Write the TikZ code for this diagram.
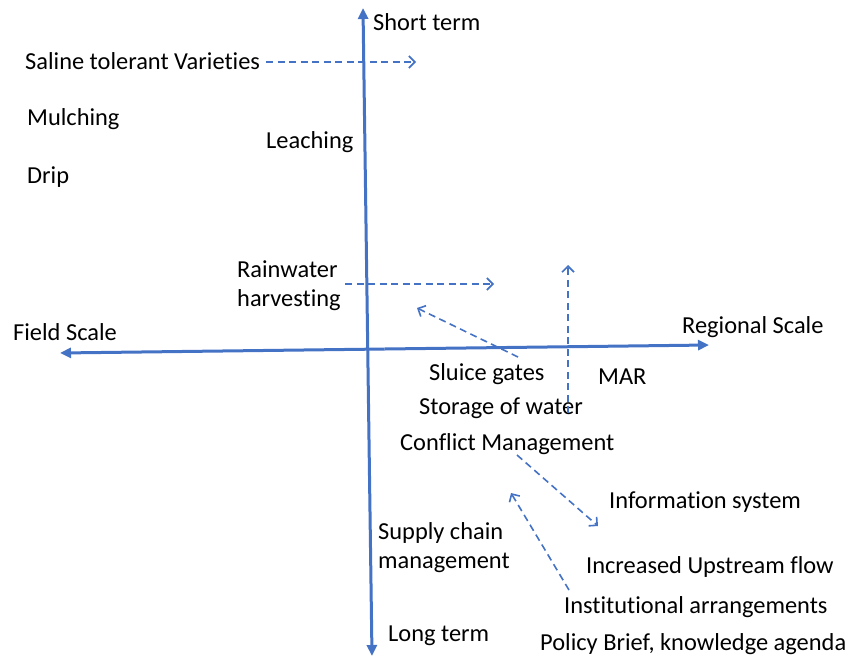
\documentclass[tikz,border=0pt]{standalone}
\usepackage{fontspec}
\setmainfont[RawFeature={-liga;-clig;-calt;-dlig}]{Carlito}
\usetikzlibrary{arrows.meta}
\definecolor{officeblue}{RGB}{68,114,196}
\begin{document}
\begin{tikzpicture}[x=1pt,y=-1pt,
  lbl/.style={anchor=west,inner sep=0pt,font=\fontsize{24.4}{29}\selectfont,text=black},
  axis/.style={draw=officeblue,line width=3pt,-{Triangle[length=11pt,width=10pt]}},
  dasharrow/.style={draw=officeblue,line width=1.6pt,dash pattern=on 7pt off 4.5pt,-{Straight Barb[length=6pt,width=12pt]}}]
\useasboundingbox (0,0) rectangle (846,659);
% text labels
\node[lbl] (st) at (373,22) {Short term};
\node[lbl] (sal) at (25,61) {Saline tolerant Varieties};
\node[lbl] (mul) at (27,119) {Mulching};
\node[lbl] (lea) at (266,142) {Leaching};
\node[lbl] (drip) at (27,177) {Drip};
\node[lbl,align=left] (rain) at (237,286) {Rainwater\\harvesting};
\node[lbl] (field) at (13,332) {Field Scale};
\node[lbl] (reg) at (682,327) {Regional Scale};
\node[lbl] (sluice) at (429,374) {Sluice gates};
\node[lbl] (mar) at (598,377) {MAR};
\node[lbl] (stor) at (419,408) {Storage of water};
\node[lbl] (conf) at (400,444) {Conflict Management};
\node[lbl] (info) at (609,502) {Information system};
\node[lbl,align=left] (supply) at (378,548) {Supply chain\\management};
\node[lbl] (incr) at (586,567) {Increased Upstream flow};
\node[lbl] (inst) at (564,607) {Institutional arrangements};
\node[lbl] (long) at (388,636) {Long term};
\node[lbl] (pol) at (540,644) {Policy Brief, knowledge agenda};
% axis end points
\coordinate (vtop) at (363,8);
\coordinate (vbot) at (372,656);
\coordinate (hleft) at (60,353);
\coordinate (hright) at (709,345);
\coordinate (vmid) at (367.5,332);
\coordinate (hmid) at (384.5,349);
\draw[axis] (vmid) -- (vtop);
\draw[axis] (vmid) -- (vbot);
\draw[axis] (hmid) -- (hleft);
\draw[axis] (hmid) -- (hright);
% dashed arrows
\coordinate (a1s) at (266,62);
\coordinate (a1) at (416,62);
\draw[dasharrow] (a1s) -- (a1);
\coordinate (a2s) at (345,284);
\coordinate (a2) at (494,284);
\draw[dasharrow] (a2s) -- (a2);
\coordinate (a3s) at (518,357);
\coordinate (a3) at (417,308);
\draw[dasharrow] (a3s) -- (a3);
\coordinate (a4s) at (568,413);
\coordinate (a4) at (568,265);
\draw[dasharrow] (a4s) -- (a4);
\coordinate (a5s) at (517,455);
\coordinate (a5) at (598,526);
\draw[dasharrow] (a5s) -- (a5);
\coordinate (a6s) at (569,590);
\coordinate (a6) at (511,493);
\draw[dasharrow] (a6s) -- (a6);
\end{tikzpicture}
\end{document}
